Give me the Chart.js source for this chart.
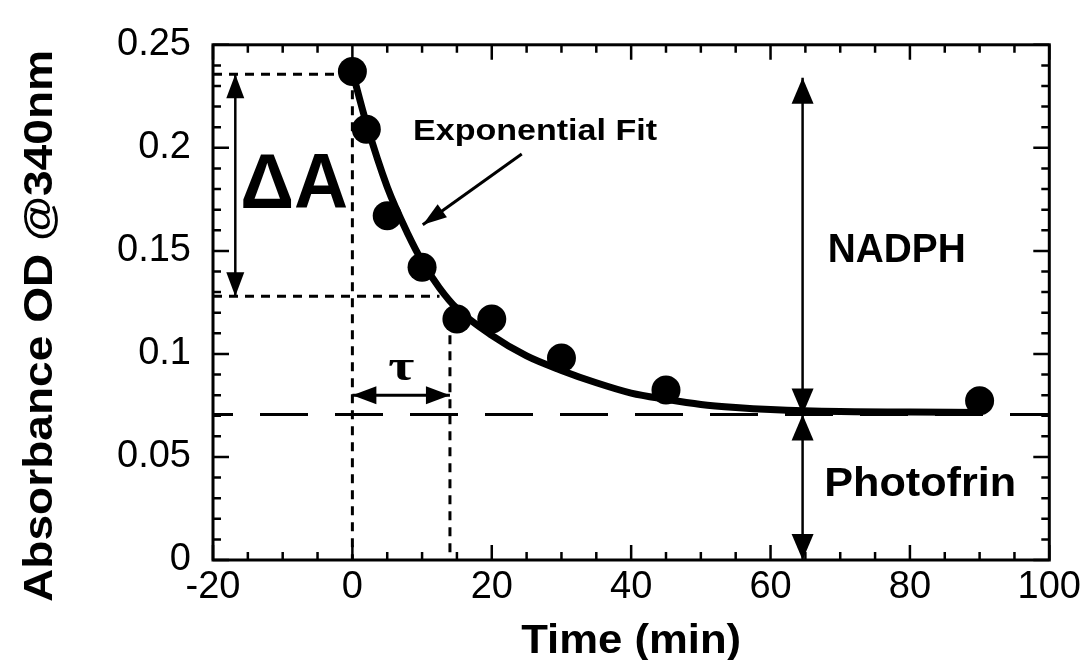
<!DOCTYPE html>
<html><head><meta charset="utf-8">
<script src="https://cdn.jsdelivr.net/npm/chart.js@4"></script>
<style>html,body{margin:0;padding:0;background:#fff}canvas{display:block}</style>
</head><body>
<canvas id="c" width="1086" height="660"></canvas>
<script>
// ---- data ----
const timeMin    = [0, 2, 5, 10, 15, 20, 30, 45, 90];
const absorbance = [0.237, 0.209, 0.167, 0.142, 0.117, 0.117, 0.098, 0.0825, 0.0773];
const fitTime = [0, 2, 5, 8, 10, 12.5, 15, 20, 25, 30, 35, 40, 45, 50, 55, 60, 70, 80, 90];
const fitAbs  = [0.237, 0.212, 0.181, 0.158, 0.145, 0.132, 0.122, 0.109, 0.099, 0.092, 0.086, 0.081, 0.078, 0.0755, 0.074, 0.073, 0.072, 0.0718, 0.0716];
const xTicks = [-20, 0, 20, 40, 60, 80, 100];
const yTicks = [0, 0.05, 0.1, 0.15, 0.2, 0.25];
const xTitle = 'Time (min)';
const yTitle = 'Absorbance OD @340nm';
const labelDeltaA = 'ΔA';
const labelTau = 'τ';
const labelFit = 'Exponential Fit';
const labelNADPH = 'NADPH';
const labelPhotofrin = 'Photofrin';
// annotation levels (data units)
const topLevel = 0.2357, halfLevel = 0.128, baseLevel = 0.0706, tauTime = 14;

const SANS = '"Liberation Sans", Arial, Helvetica, sans-serif';

function stretchText(ctx, str, font, x, y, width, align) {
  ctx.save();
  ctx.font = font; ctx.textBaseline = 'alphabetic'; ctx.textAlign = 'left';
  const w = ctx.measureText(str).width;
  const s = width ? width / w : 1;
  const W = w * s;
  const left = align === 'center' ? x - W / 2 : x;
  ctx.translate(left, y); ctx.scale(s, 1);
  ctx.fillText(str, 0, 0);
  ctx.restore();
}
function head(ctx, x1, y1, x2, y2, len, wid) {
  const a = Math.atan2(y2 - y1, x2 - x1);
  ctx.beginPath();
  ctx.moveTo(x2, y2);
  ctx.lineTo(x2 - len * Math.cos(a) + wid / 2 * Math.sin(a), y2 - len * Math.sin(a) - wid / 2 * Math.cos(a));
  ctx.lineTo(x2 - len * Math.cos(a) - wid / 2 * Math.sin(a), y2 - len * Math.sin(a) + wid / 2 * Math.cos(a));
  ctx.closePath(); ctx.fill();
}
function arrow(ctx, x1, y1, x2, y2, both, len, wid, lw) {
  ctx.save(); ctx.setLineDash([]); ctx.lineWidth = lw || 2.5;
  ctx.beginPath(); ctx.moveTo(x1, y1); ctx.lineTo(x2, y2); ctx.stroke();
  head(ctx, x1, y1, x2, y2, len, wid);
  if (both) head(ctx, x2, y2, x1, y1, len, wid);
  ctx.restore();
}
function line(ctx, x1, y1, x2, y2, dash, lw, offset) {
  ctx.save(); ctx.setLineDash(dash); ctx.lineDashOffset = offset || 0; ctx.lineWidth = lw;
  ctx.beginPath(); ctx.moveTo(x1, y1); ctx.lineTo(x2, y2); ctx.stroke(); ctx.restore();
}

const annot = {
  id: 'annot',
  beforeDatasetsDraw(chart) {
    const ctx = chart.ctx, X = chart.scales.x, Y = chart.scales.y, A = chart.chartArea;
    const px = v => X.getPixelForValue(v), py = v => Y.getPixelForValue(v);
    ctx.save(); ctx.strokeStyle = '#000'; ctx.fillStyle = '#000';
    const sd = [9, 7];
    line(ctx, A.left, py(topLevel), px(0), py(topLevel), sd, 3);
    line(ctx, A.left, py(halfLevel), px(12.5), py(halfLevel), sd, 3);
    line(ctx, px(0), py(topLevel), px(0), A.bottom, sd, 3);
    line(ctx, px(tauTime), py(0.109), px(tauTime), A.bottom, sd, 3);
    line(ctx, A.left, py(baseLevel), A.right, py(baseLevel), [48, 27], 3, 28);
    // arrows
    arrow(ctx, px(-16.8), py(topLevel), px(-16.8), py(halfLevel), true, 24, 18, 2.5);
    arrow(ctx, px(64.6), py(0.234), px(64.6), py(baseLevel), true, 26, 22, 2.5);
    arrow(ctx, px(64.6), py(baseLevel), px(64.6), py(0), true, 26, 22, 2.5);
    arrow(ctx, px(0), py(0.080), px(tauTime), py(0.080), true, 24, 18, 3);
    arrow(ctx, px(24.3), py(0.197), px(10.1), py(0.1627), false, 24, 16, 3);
    ctx.restore();
  },
  afterDraw(chart) {
    const ctx = chart.ctx, X = chart.scales.x, Y = chart.scales.y, A = chart.chartArea;
    const px = v => X.getPixelForValue(v), py = v => Y.getPixelForValue(v);
    ctx.save(); ctx.strokeStyle = '#000'; ctx.fillStyle = '#000'; ctx.setLineDash([]);
    // frame
    ctx.lineWidth = 3;
    ctx.strokeRect(A.left, A.top, A.right - A.left, A.bottom - A.top);
    // inward ticks
    ctx.lineWidth = 2.5;
    for (let v = -20; v <= 100.001; v += 5) {
      const major = Math.abs(v % 20) < 1e-6;
      const L = major ? 15 : 8, x = px(v);
      ctx.beginPath();
      ctx.moveTo(x, A.bottom); ctx.lineTo(x, A.bottom - L);
      ctx.moveTo(x, A.top); ctx.lineTo(x, A.top + L);
      ctx.stroke();
    }
    for (let i = 0; i <= 25; i++) {
      const v = i / 100, major = i % 5 === 0;
      const L = major ? 16 : 8, y = py(v);
      ctx.beginPath();
      ctx.moveTo(A.left, y); ctx.lineTo(A.left + L, y);
      ctx.moveTo(A.right, y); ctx.lineTo(A.right - L, y);
      ctx.stroke();
    }
    // texts
    stretchText(ctx, labelDeltaA, 'bold 78px ' + SANS, px(-16.1), py(0.171), 108);
    stretchText(ctx, labelFit, 'bold 30px ' + SANS, px(8.7), py(0.204), 244);
    stretchText(ctx, labelNADPH, 'bold 41px ' + SANS, px(68.2), py(0.1446), 138);
    stretchText(ctx, labelPhotofrin, 'bold 40px ' + SANS, px(67.7), py(0.031), 192);
    stretchText(ctx, labelTau, 'bold 44px "Liberation Serif", "DejaVu Serif", serif', (px(0) + px(tauTime)) / 2, py(0.0873), 26, 'center');
    // axis titles
    stretchText(ctx, xTitle, 'bold 41px ' + SANS, (A.left + A.right) / 2, A.bottom + 93, 220, 'center');
    ctx.save();
    ctx.translate(52, 326); ctx.rotate(-Math.PI / 2);
    stretchText(ctx, yTitle, 'bold 40px ' + SANS, 0, 0, 552, 'center');
    ctx.restore();
    ctx.restore();
  }
};

new Chart(document.getElementById('c'), {
  type: 'scatter',
  data: {
    datasets: [
      {
        label: 'Exponential Fit',
        data: fitTime.map((t, i) => ({ x: t, y: fitAbs[i] })),
        showLine: true, borderColor: '#000', borderWidth: 7, pointRadius: 0,
        cubicInterpolationMode: 'monotone', fill: false, order: 2
      },
      {
        label: 'Absorbance',
        data: timeMin.map((t, i) => ({ x: t, y: absorbance[i] })),
        showLine: false, pointRadius: 14.5, pointBackgroundColor: '#000',
        pointBorderColor: '#000', pointBorderWidth: 0, order: 1
      }
    ]
  },
  options: {
    responsive: false, animation: false, devicePixelRatio: 1,
    layout: { padding: { top: 36, right: 36, left: 0, bottom: 0 } },
    plugins: { legend: { display: false }, tooltip: { enabled: false } },
    scales: {
      x: {
        type: 'linear', min: -20, max: 100,
        afterBuildTicks: s => { s.ticks = xTicks.map(v => ({ value: v })); },
        afterFit: s => { s.height = 100; },
        grid: { display: false, drawTicks: false },
        border: { display: false },
        ticks: { color: '#000', padding: 5, font: { family: SANS, size: 38 }, maxRotation: 0, autoSkip: false, callback: v => String(v) }
      },
      y: {
        type: 'linear', min: 0, max: 0.25,
        afterBuildTicks: s => { s.ticks = yTicks.map(v => ({ value: v })); },
        afterFit: s => { s.width = 213; },
        grid: { display: false, drawTicks: false },
        border: { display: false },
        ticks: { color: '#000', padding: 22, font: { family: SANS, size: 38 }, autoSkip: false, callback: v => String(v) }
      }
    }
  },
  plugins: [annot]
});
</script>
</body></html>
